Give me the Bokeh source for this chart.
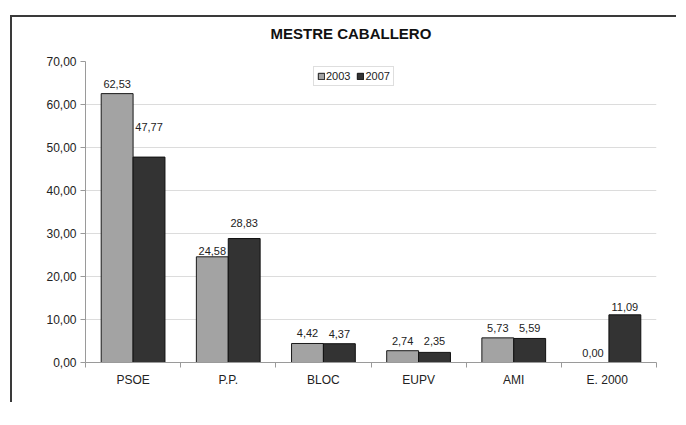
import numpy as np
from bokeh.plotting import figure
from bokeh.models import (ColumnDataSource, FixedTicker, Legend, LegendItem, Range1d, Title)
from bokeh.transform import dodge
from bokeh.core.properties import value
from bokeh.embed import file_html
from bokeh.resources import INLINE

# ---- data ----
categories = ["PSOE", "P.P.", "BLOC", "EUPV", "AMI", "E.  2000"]
votes_2003 = [62.53, 24.58, 4.42, 2.74, 5.73, 0.00]
votes_2007 = [47.77, 28.83, 4.37, 2.35, 5.59, 11.09]
y_ticks = [0, 10, 20, 30, 40, 50, 60, 70]
y_tick_labels = ["0,00", "10,00", "20,00", "30,00", "40,00", "50,00", "60,00", "70,00"]
series_names = ["2003", "2007"]
title_text = "MESTRE CABALLERO"

# label lift (pixels above bar top), as placed in the original
lift_2003 = [10, 6, 10, 10, 10, 10]
lift_2007 = [30, 16, 10, 11, 10, 8]

FONT = "Liberation Sans"
C03 = "#a3a3a3"
C07 = "#333333"

idx = np.arange(len(categories)) + 0.5
fmt = lambda v: f"{v:.2f}".replace(".", ",")

src = ColumnDataSource(dict(
    x=idx,
    v03=votes_2003, v07=votes_2007,
    t03=[fmt(v) for v in votes_2003], t07=[fmt(v) for v in votes_2007],
    o03=[-l for l in lift_2003], o07=[-l for l in lift_2007],
))

p = figure(frame_width=571, frame_height=301, output_backend="svg", toolbar_location=None,
           x_range=Range1d(0, len(categories)), y_range=Range1d(0, 70),
           min_border_left=73, min_border_right=20, min_border_top=44, min_border_bottom=40)
p.margin = (15, 0, 0, 10)
p.styles = {"border-left": "2px solid #3a3a3a", "border-top": "2px solid #3a3a3a"}
p.outline_line_color = None
p.background_fill_color = "white"
p.border_fill_color = "white"

# spacer between frame and title, so the title sits higher
spacer = Title(text=" ", text_font_size="10px", standoff=6)
p.add_layout(spacer, "above")

p.title.text = title_text
p.title.align = "left"
p.title.offset = 185
p.title.text_font = FONT
p.title.text_font_size = "15px"
p.title.text_font_style = "bold"
p.title.text_color = "#111111"
p.title.standoff = 2

bw = 0.335
off = 0.1675
r03 = p.vbar(x=dodge("x", -off), top="v03", width=bw, source=src,
             fill_color=C03, line_color="#1a1a1a", line_width=1)
r07 = p.vbar(x=dodge("x", off), top="v07", width=bw, source=src,
             fill_color=C07, line_color="#111111", line_width=1)

p.text(x=dodge("x", -off), y="v03", text="t03", y_offset="o03", source=src,
       text_align="center", text_baseline="middle", text_font=value(FONT),
       text_font_size="11px", text_color="#222222")
p.text(x=dodge("x", off), y="v07", text="t07", y_offset="o07", source=src,
       text_align="center", text_baseline="middle", text_font=value(FONT),
       text_font_size="11px", text_color="#222222")

# y axis
p.yaxis.ticker = FixedTicker(ticks=y_ticks)
p.yaxis.major_label_overrides = {t: l for t, l in zip(y_ticks, y_tick_labels)}
p.yaxis.minor_tick_line_color = None
p.yaxis.axis_line_color = "#9a9a9a"
p.yaxis.major_tick_line_color = "#9a9a9a"
p.yaxis.major_tick_out = 5
p.yaxis.major_tick_in = 0
p.yaxis.major_label_standoff = 4
p.yaxis.major_label_text_font = FONT
p.yaxis.major_label_text_font_size = "12px"
p.yaxis.major_label_text_color = "#222222"

# x axis
p.xaxis.ticker = FixedTicker(ticks=list(idx), minor_ticks=list(range(len(categories) + 1)))
p.xaxis.major_label_overrides = {float(x): c for x, c in zip(idx, categories)}
p.xaxis.major_tick_line_color = None
p.xaxis.minor_tick_line_color = "#9a9a9a"
p.xaxis.minor_tick_out = 5
p.xaxis.minor_tick_in = 0
p.xaxis.axis_line_color = "#9a9a9a"
p.xaxis.major_label_standoff = 4
p.xaxis.major_label_text_font = FONT
p.xaxis.major_label_text_font_size = "12px"
p.xaxis.major_label_text_color = "#222222"

p.xgrid.grid_line_color = None
p.ygrid.grid_line_color = "#dcdcdc"
p.ygrid.ticker = FixedTicker(ticks=y_ticks)

legend = Legend(items=[LegendItem(label=series_names[0], renderers=[r03]),
                       LegendItem(label=series_names[1], renderers=[r07])],
                orientation="horizontal", location=(228, 276))
legend.border_line_color = "#bdbdbd"
legend.label_text_font = FONT
legend.label_text_font_size = "11px"
legend.label_text_color = "#222222"
legend.glyph_width = 8
legend.glyph_height = 8
legend.label_standoff = 1
legend.spacing = 6
legend.padding = 3
legend.margin = 0
legend.label_height = 12
legend.background_fill_alpha = 1
p.add_layout(legend, "center")

open("out.html", "w").write(file_html(p, INLINE))
